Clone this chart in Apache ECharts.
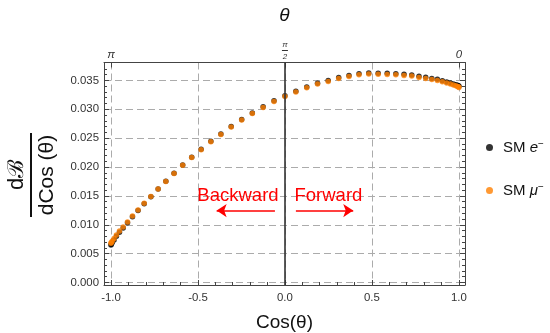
<!DOCTYPE html>
<html>
<head>
<meta charset="utf-8">
<script src="https://cdn.jsdelivr.net/npm/echarts@6/dist/echarts.min.js"></script>
<style>
  html, body { margin: 0; padding: 0; background: #fff; }
  #chart { width: 550px; height: 333px; }
</style>
</head>
<body>
<div id="chart"></div>
<script>
// cos(theta) sample points, theta from pi down to 0
const cosTheta = [
  -1.0000, -0.99803, -0.99211, -0.98229, -0.96858, -0.95106, -0.92978, -0.90483, -0.87631, -0.84433,
  -0.80902, -0.77051, -0.72897, -0.68455, -0.63742, -0.58779, -0.53583, -0.48175, -0.42578, -0.36812,
  -0.30902, -0.24869, -0.18738, -0.12533, -0.06279, 0.0000, 0.06279, 0.12533, 0.18738, 0.24869,
  0.30902, 0.36812, 0.42578, 0.48175, 0.53583, 0.58779, 0.63742, 0.68455, 0.72897, 0.77051,
  0.80902, 0.84433, 0.87631, 0.90483, 0.92978, 0.95106, 0.96858, 0.98229, 0.99211, 0.99803, 1.0000
];

// dB/dcos(theta), SM electron mode
const smElectron = [
  0.00650, 0.00664, 0.00692, 0.00738, 0.00800, 0.00872, 0.00944, 0.01035, 0.01139, 0.01246,
  0.01365, 0.01487, 0.01620, 0.01752, 0.01890, 0.02034, 0.02171, 0.02307, 0.02445, 0.02574,
  0.02702, 0.02824, 0.02937, 0.03042, 0.03146, 0.03234, 0.03313, 0.03387, 0.03452, 0.03500,
  0.03552, 0.03586, 0.03615, 0.03627, 0.03625, 0.03622, 0.03615, 0.03605, 0.03593, 0.03570,
  0.03553, 0.03535, 0.03518, 0.03494, 0.03471, 0.03454, 0.03437, 0.03425, 0.03414, 0.03406, 0.03397
];

// dB/dcos(theta), SM muon mode
const smMuon = [
  0.00679, 0.00692, 0.00718, 0.00762, 0.00822, 0.00891, 0.00961, 0.01050, 0.01151, 0.01255,
  0.01371, 0.01490, 0.01620, 0.01750, 0.01886, 0.02029, 0.02165, 0.02300, 0.02437, 0.02565,
  0.02692, 0.02813, 0.02925, 0.03029, 0.03133, 0.03220, 0.03298, 0.03372, 0.03436, 0.03483,
  0.03535, 0.03569, 0.03597, 0.03609, 0.03607, 0.03604, 0.03597, 0.03587, 0.03575, 0.03552,
  0.03535, 0.03517, 0.03500, 0.03476, 0.03453, 0.03436, 0.03419, 0.03407, 0.03396, 0.03388, 0.03379
];

const seriesNames = ['SM e\u2212', 'SM \u03bc\u2212'];

// axis ticks
const xTicks = [-1, -0.5, 0, 0.5, 1];
const xMinorTicks = [-0.9, -0.8, -0.7, -0.6, -0.4, -0.3, -0.2, -0.1, 0.1, 0.2, 0.3, 0.4, 0.6, 0.7, 0.8, 0.9];
const yTicks = [0, 0.005, 0.010, 0.015, 0.020, 0.025, 0.030, 0.035];
const yMinorTicks = [0.001, 0.002, 0.003, 0.004, 0.006, 0.007, 0.008, 0.009, 0.011, 0.012, 0.013, 0.014,
  0.016, 0.017, 0.018, 0.019, 0.021, 0.022, 0.023, 0.024, 0.026, 0.027, 0.028, 0.029,
  0.031, 0.032, 0.033, 0.034, 0.036, 0.037];
const thetaTicks = [-1, 0, 1];
const thetaTickLabels = ['{n|\u03c0}', '{f|\u03c0}\n{bar|}\n{f|2}', '{n|0}'];

// annotations
const backwardLabel = { text: 'Backward', coord: [-0.27, 0.01497] };
const forwardLabel = { text: 'Forward', coord: [0.25, 0.01497] };
const backwardArrow = [[-0.0575, 0.01246], [-0.3925, 0.01246]];
const forwardArrow = [[0.063, 0.01246], [0.3925, 0.01246]];

const X_MIN = -1.04, X_MAX = 1.035;
const Y_MIN = -0.00043, Y_MAX = 0.0381;

const FONT = "'Liberation Sans', Arial, Helvetica, sans-serif";
const FRAME = '#444';
const GRID = '#ababab';
const LABEL = '#333';

const chart = echarts.init(document.getElementById('chart'), null, { renderer: 'canvas' });

function baseX(position, extra) {
  return Object.assign({
    type: 'value', position: position, min: X_MIN, max: X_MAX,
    axisLine: { show: false, onZero: false },
    axisTick: { show: false }, axisLabel: { show: false },
    splitLine: { show: false }, minorTick: { show: false }
  }, extra);
}
function baseY(position, extra) {
  return Object.assign({
    type: 'value', position: position, min: Y_MIN, max: Y_MAX,
    axisLine: { show: false, onZero: false },
    axisTick: { show: false }, axisLabel: { show: false },
    splitLine: { show: false }, minorTick: { show: false }
  }, extra);
}

const gridDash = { color: GRID, width: 1, type: [7, 4] };

function arrow(pair) {
  return [
    { coord: pair[0], symbol: 'none', symbolSize: 0 },
    { coord: pair[1], symbol: 'arrow', symbolSize: 10 }
  ];
}

const option = {
  animation: false,
  backgroundColor: '#fff',
  grid: { left: 104, right: 85, top: 62.5, bottom: 48, containLabel: false, outerBoundsMode: 'none' },
  xAxis: [
    baseX('bottom', {
      name: 'Cos(\u03b8)', nameLocation: 'middle', nameGap: 28.5,
      nameTextStyle: { fontFamily: FONT, fontSize: 19, color: '#111' },
      axisLine: { show: true, onZero: false, lineStyle: { color: FRAME, width: 1 } },
      axisTick: { show: true, inside: true, length: 5, customValues: xTicks, lineStyle: { color: FRAME } },
      axisLabel: { show: true, customValues: xTicks, margin: 7.5, fontFamily: FONT, fontSize: 11.4, color: LABEL,
        formatter: v => v.toFixed(1) },
      splitLine: { show: true, lineStyle: gridDash }
    }),
    baseX('bottom', {
      axisTick: { show: true, inside: true, length: 3, customValues: xMinorTicks, lineStyle: { color: FRAME } }
    }),
    baseX('top', {
      name: '\u03b8', nameLocation: 'middle', nameGap: 37,
      nameTextStyle: { fontFamily: FONT, fontSize: 19, fontStyle: 'italic', color: '#111' },
      axisLine: { show: true, onZero: false, lineStyle: { color: FRAME, width: 1 } },
      axisTick: { show: true, inside: true, length: 5, customValues: thetaTicks, lineStyle: { color: FRAME } },
      axisLabel: {
        show: true, customValues: thetaTicks, margin: 2,
        formatter: v => thetaTickLabels[thetaTicks.indexOf(Math.round(v))],
        rich: {
          n: { fontFamily: FONT, fontSize: 11.4, fontStyle: 'italic', color: LABEL, lineHeight: 11, align: 'center' },
          f: { fontFamily: FONT, fontSize: 8, fontStyle: 'italic', color: LABEL, lineHeight: 8, align: 'center' },
          bar: { width: 6, height: 1, lineHeight: 4, backgroundColor: LABEL, align: 'center' }
        }
      }
    })
  ],
  yAxis: [
    baseY('left', {
      axisLine: { show: true, onZero: false, lineStyle: { color: FRAME, width: 1 } },
      axisTick: { show: true, inside: true, length: 5, customValues: yTicks, lineStyle: { color: FRAME } },
      axisLabel: { show: true, customValues: yTicks, margin: 5, fontFamily: FONT, fontSize: 11.4, color: LABEL,
        formatter: v => v.toFixed(3) },
      splitLine: { show: true, lineStyle: gridDash }
    }),
    baseY('left', {
      axisTick: { show: true, inside: true, length: 3, customValues: yMinorTicks, lineStyle: { color: FRAME } }
    }),
    baseY('right', {
      axisLine: { show: true, onZero: false, lineStyle: { color: FRAME, width: 1 } },
      axisTick: { show: true, inside: true, length: 5, customValues: yTicks, lineStyle: { color: FRAME } }
    }),
    baseY('right', {
      axisTick: { show: true, inside: true, length: 3, customValues: yMinorTicks, lineStyle: { color: FRAME } }
    })
  ],
  legend: {
    orient: 'vertical', left: 481, top: 134,
    itemWidth: 7, itemHeight: 7, itemGap: 27, icon: 'circle',
    data: seriesNames,
    formatter: name => name.indexOf('\u03bc') < 0
      ? '{t|SM }{i|e}{s|\u2212}' : '{t|SM }{i|\u03bc}{s|\u2212}',
    textStyle: {
      rich: {
        t: { fontFamily: FONT, fontSize: 15, color: '#111', lineHeight: 17, padding: [0, 0, 0, 5] },
        i: { fontFamily: FONT, fontSize: 15, fontStyle: 'italic', color: '#111', lineHeight: 17 },
        s: { fontFamily: FONT, fontSize: 10, color: '#111', verticalAlign: 'top', lineHeight: 10 }
      }
    }
  },
  series: [
    {
      name: seriesNames[0], type: 'scatter', symbol: 'circle', symbolSize: 5.5,
      itemStyle: { color: '#000' },
      data: cosTheta.map((c, i) => [c, smElectron[i]]),
      markLine: {
        silent: true, symbol: ['none', 'none'], label: { show: false },
        lineStyle: { color: '#333', width: 1.6, type: 'solid' },
        data: [{ xAxis: 0 }]
      },
      z: 3
    },
    {
      name: seriesNames[1], type: 'scatter', symbol: 'circle', symbolSize: 5.5,
      itemStyle: { color: '#ff8000' },
      data: cosTheta.map((c, i) => [c, smMuon[i]]),
      markLine: {
        silent: true, symbol: ['none', 'arrow'], symbolSize: 10, label: { show: false },
        itemStyle: { color: '#ff0000' },
        lineStyle: { color: '#ff0000', width: 1.5, type: 'solid' },
        data: [arrow(backwardArrow), arrow(forwardArrow)]
      },
      markPoint: {
        silent: true, symbol: 'circle', symbolSize: 0,
        label: { show: true, position: 'inside', color: '#ff0000', fontFamily: FONT, fontSize: 18.5,
          formatter: p => p.name },
        data: [
          { name: backwardLabel.text, coord: backwardLabel.coord },
          { name: forwardLabel.text, coord: forwardLabel.coord }
        ]
      },
      z: 4
    }
  ],
  graphic: [
    {
      type: 'group', x: 31, y: 175, rotation: Math.PI / 2,
      children: [
        { type: 'text', x: 0, y: -14, style: { text: 'd\u212c', fontFamily: FONT, fontSize: 22, fill: '#111',
          align: 'center', verticalAlign: 'middle' } },
        { type: 'line', shape: { x1: -42, y1: 0, x2: 42, y2: 0 }, style: { stroke: '#111', lineWidth: 2 } },
        { type: 'text', x: 0, y: 16, style: { text: 'dCos (\u03b8)', fontFamily: FONT, fontSize: 21, fill: '#111',
          align: 'center', verticalAlign: 'middle' } }
      ]
    }
  ]
};

chart.setOption(option);
</script>
</body>
</html>
